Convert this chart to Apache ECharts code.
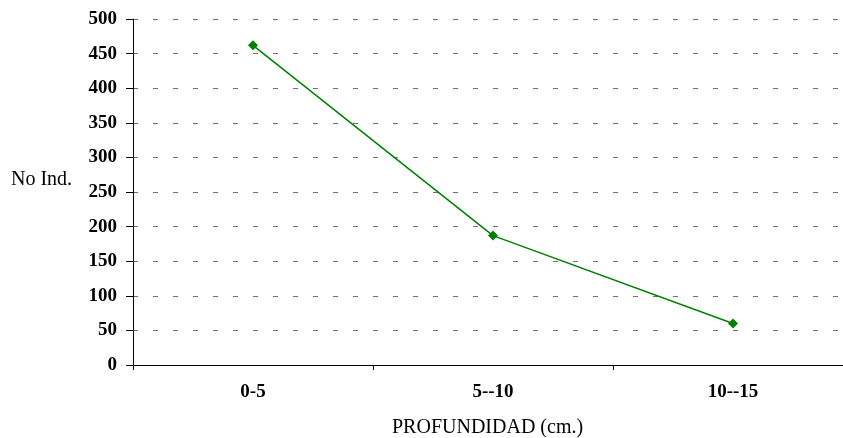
<!DOCTYPE html>
<html>
<head>
<meta charset="utf-8">
<script src="https://cdn.jsdelivr.net/npm/echarts@6/dist/echarts.min.js"></script>
<style>html,body{margin:0;padding:0;background:#fff;overflow:hidden}#c{width:853px;height:438px}</style>
</head>
<body>
<div id="c"></div>
<script>
var categories = ['0-5', '5--10', '10--15'];
var values = [462, 187, 60];
var yTicks = [0, 50, 100, 150, 200, 250, 300, 350, 400, 450, 500];
var xTitle = 'PROFUNDIDAD (cm.)';
var yTitle = 'No Ind.';

var font = '"Liberation Serif", "Times New Roman", serif';
var chart = echarts.init(document.getElementById('c'), null, {renderer: 'canvas'});
chart.setOption({
  animation: false,
  backgroundColor: '#fff',
  grid: {left: 133, right: 0, top: 19, bottom: 73, containLabel: false},
  xAxis: {
    type: 'category',
    data: categories,
    boundaryGap: true,
    axisLine: {lineStyle: {color: '#000', width: 1}},
    axisTick: {show: true, alignWithLabel: false, length: 5, lineStyle: {color: '#000'}},
    axisLabel: {fontFamily: font, fontWeight: 'bold', fontSize: 19, color: '#000', margin: 18},
    splitLine: {show: false}
  },
  yAxis: {
    type: 'value',
    min: yTicks[0],
    max: yTicks[yTicks.length - 1],
    interval: yTicks[1] - yTicks[0],
    axisLine: {show: true, lineStyle: {color: '#000', width: 1}},
    axisTick: {show: true, inside: false, length: 7, lineStyle: {color: '#000'}},
    axisLabel: {fontFamily: font, fontWeight: 'bold', fontSize: 19, color: '#000', margin: 16},
    splitLine: {show: true, lineStyle: {color: '#707070', width: 1, type: [5, 15]}}
  },
  graphic: [
    {type: 'text', left: 11, top: 170, style: {text: yTitle, font: '20px ' + font, fill: '#000'}},
    {type: 'text', left: 392, top: 418, style: {text: xTitle, font: '20px ' + font, fill: '#000'}}
  ],
  series: [{
    type: 'line',
    data: values,
    symbol: 'diamond',
    symbolSize: 10,
    lineStyle: {color: '#008000', width: 1.5},
    itemStyle: {color: '#008000'},
    label: {show: false}
  }]
});
</script>
</body>
</html>
